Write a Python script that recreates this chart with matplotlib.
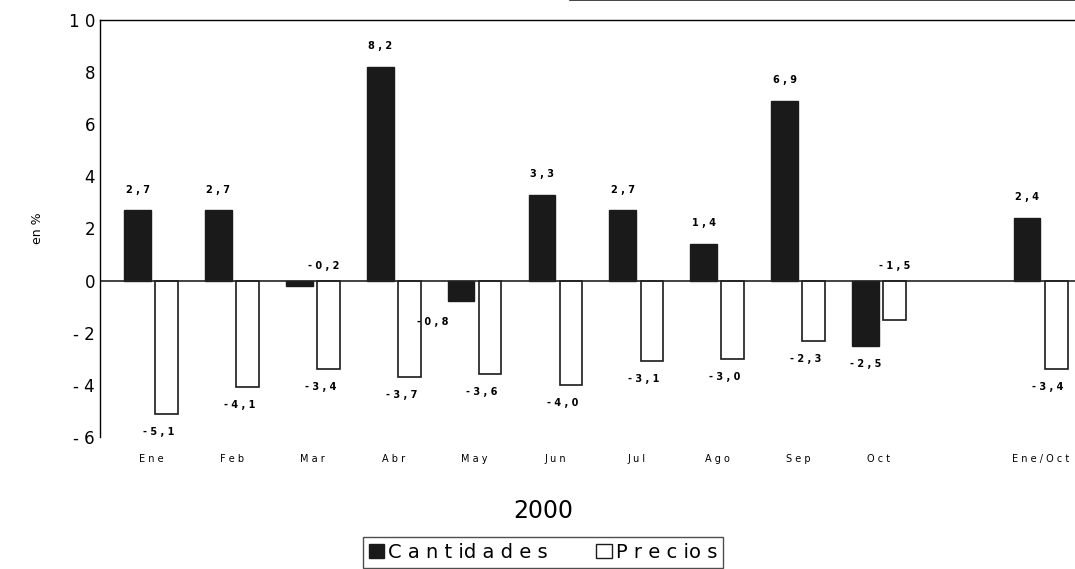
import matplotlib
matplotlib.use("Agg")
import matplotlib.pyplot as plt
from matplotlib.patches import Patch

months = ["Ene", "Feb", "Mar", "Abr", "May", "Jun", "Jul", "Ago", "Sep", "Oct", "Ene/Oct"]
positions = [0, 1, 2, 3, 4, 5, 6, 7, 8, 9, 11]
cantidades = [2.7, 2.7, -0.2, 8.2, -0.8, 3.3, 2.7, 1.4, 6.9, -2.5, 2.4]
precios = [-5.1, -4.1, -3.4, -3.7, -3.6, -4.0, -3.1, -3.0, -2.3, -1.5, -3.4]

fig = plt.figure(figsize=(10.75, 5.69), dpi=100)
ax = fig.add_axes([0.093, 0.232, 0.92, 0.733])

w = 0.33
xc = [p - w / 2 for p in positions]
xp = [p + w / 2 + 0.03 for p in positions]
ax.bar(xc, cantidades, w, color="#1a1a1a", edgecolor="#1a1a1a")
ax.bar(xp, precios, w * 0.85, color="white", edgecolor="#1a1a1a", linewidth=1.2)
ax.axhline(0, color="#222222", linewidth=1.2)

def fmt(v):
    s = f"{v:.1f}".replace(".", ",")
    return " ".join(s)

for x, v in zip(xc, cantidades):
    if v > 0:
        ax.text(x, v + 0.6, fmt(v), ha="center", va="bottom", fontsize=7, fontweight="bold")
    elif v > -0.5:
        ax.text(x + 0.3, 0.35, fmt(v), ha="center", va="bottom", fontsize=7, fontweight="bold")
    elif v > -1.5:
        ax.text(x - 0.35, v - 0.8, fmt(v), ha="center", va="center", fontsize=7, fontweight="bold")
    else:
        ax.text(x, v - 0.5, fmt(v), ha="center", va="top", fontsize=7, fontweight="bold")
for x, v in zip(xp, precios):
    if v > -2:
        ax.text(x, 0.35, fmt(v), ha="center", va="bottom", fontsize=7, fontweight="bold")
    else:
        ax.text(x - 0.1, v - 0.5, fmt(v), ha="center", va="top", fontsize=7, fontweight="bold")

ticks = list(range(-6, 11, 2))
ax.set_xlim(-0.63, 11.6)
ax.set_ylim(-6, 10)
ax.set_yticks(ticks)
ax.set_yticklabels([("- " + str(-t)) if t < 0 else ("1 0" if t == 10 else str(t)) for t in ticks],
                   fontsize=12)
ax.set_xticks(positions)
ax.set_xticklabels([" ".join(m) for m in months], fontsize=7)
ax.tick_params(axis="x", length=0, pad=12)
ax.tick_params(axis="y", length=0)
for s in ["right", "bottom"]:
    ax.spines[s].set_visible(False)
ax.spines["top"].set_linewidth(1.0)
ax.spines["left"].set_linewidth(1.0)
ax.set_ylabel("en %", fontsize=9, labelpad=18)
ax.plot([0.53, 1.0], [1.0, 1.0], transform=fig.transFigure, color="#222222", lw=1.2, clip_on=False)

fig.text(0.505, 0.09, "2000", ha="center", fontsize=17)
handles = [Patch(facecolor="#1a1a1a", edgecolor="#1a1a1a", label="C a n t id a d e s"),
           Patch(facecolor="white", edgecolor="#1a1a1a", label="P r e c io s")]
fig.legend(handles=handles, loc="lower center", bbox_to_anchor=(0.505, -0.015), ncol=2,
           fontsize=14, frameon=True, fancybox=False, edgecolor="#222222",
           handlelength=0.8, handletextpad=0.2, columnspacing=2.5, borderpad=0.3)

fig.savefig("out.png", dpi=100)
